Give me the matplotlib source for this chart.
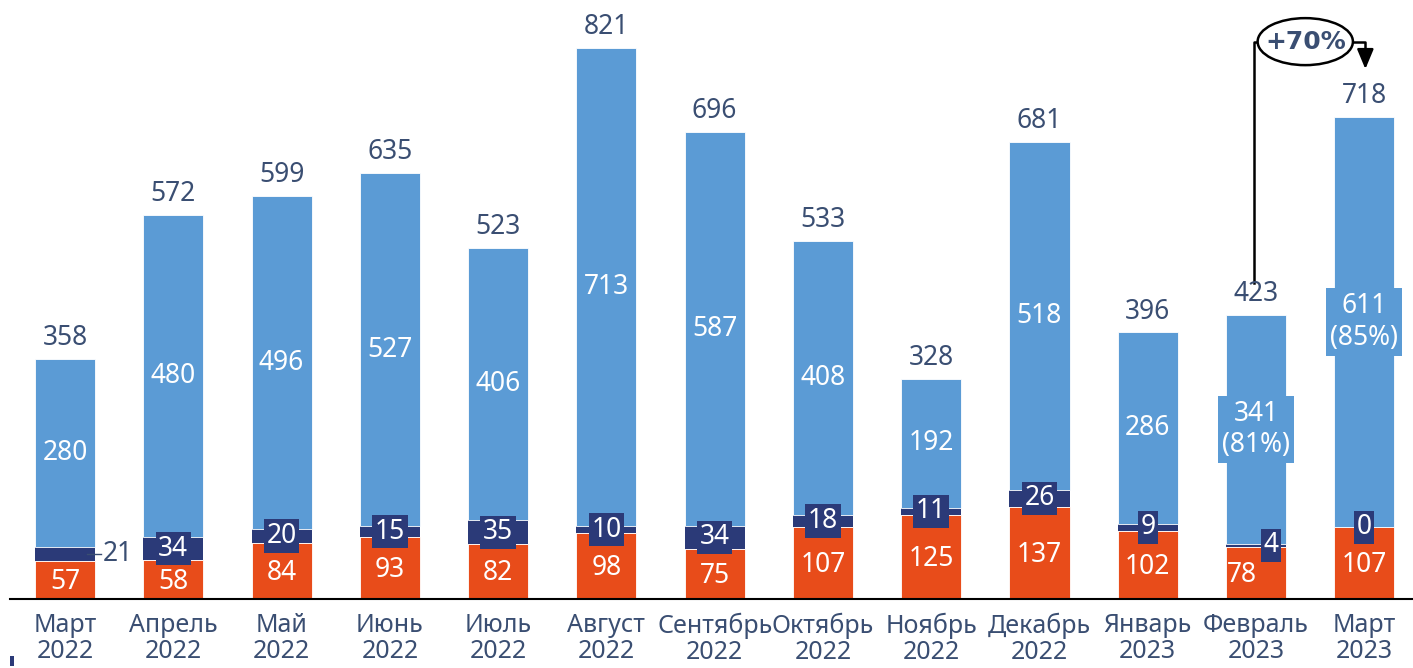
import numpy as np
import matplotlib
matplotlib.use("Agg")
import matplotlib.pyplot as plt
from matplotlib.patches import Ellipse

months = ["Март\n2022", "Апрель\n2022", "Май\n2022", "Июнь\n2022", "Июль\n2022",
          "Август\n2022", "Сентябрь\n2022", "Октябрь\n2022", "Ноябрь\n2022",
          "Декабрь\n2022", "Январь\n2023", "Февраль\n2023", "Март\n2023"]
orange = [57, 58, 84, 93, 82, 98, 75, 107, 125, 137, 102, 78, 107]
navy = [21, 34, 20, 15, 35, 10, 34, 18, 11, 26, 9, 4, 0]
blue = [280, 480, 496, 527, 406, 713, 587, 408, 192, 518, 286, 341, 611]
totals = [358, 572, 599, 635, 523, 821, 696, 533, 328, 681, 396, 423, 718]
blue_share = {11: "81%", 12: "85%"}
growth = "+70%"

C_OR = "#E84C1A"
C_NV = "#2B3A78"
C_BL = "#5B9BD5"
C_TXT = "#3A4E72"
plt.rcParams["font.family"] = ["Noto Sans", "DejaVu Sans"]

fig = plt.figure(figsize=(14.13, 6.68), dpi=100)
ax = fig.add_axes([10 / 1413, 69 / 668, 1 - 10 / 1413, 1 - 69 / 668])
x = np.arange(len(months))
w = 0.555
orange = np.array(orange)
navy = np.array(navy)
blue = np.array(blue)

ax.bar(x, orange, w, color=C_OR, edgecolor="white", linewidth=0.6)
ax.bar(x, navy, w, bottom=orange, color=C_NV, edgecolor="none")
ax.bar(x, blue, w, bottom=orange + navy, color=C_BL, edgecolor="white", linewidth=0.6)

fs = 19
for i in x:
    # orange segment
    ox = i - 0.13 if i == 11 else i
    ax.text(ox, orange[i] / 2 - 3, str(orange[i]), ha="center", va="center",
            color="white", fontsize=fs)
    # navy segment
    ny = orange[i] + navy[i] / 2
    if i == 0:
        ax.plot([i + 0.2, i + 0.33], [ny, ny], color=C_TXT, lw=1)
        ax.text(i + 0.35, ny, str(navy[i]), ha="left", va="center",
                color=C_TXT, fontsize=fs)
    else:
        nx = i + 0.14 if i == 11 else i
        ax.text(nx, ny, str(navy[i]), ha="center", va="center", color="white",
                fontsize=fs,
                bbox=dict(boxstyle="square,pad=0.1", fc=C_NV, ec="none"))
    # blue segment
    by = orange[i] + navy[i] + blue[i] / 2
    if i in blue_share:
        ax.text(i, by, f"{blue[i]}\n({blue_share[i]})", ha="center", va="center",
                color="white", fontsize=fs, linespacing=1.15,
                bbox=dict(boxstyle="square,pad=0.15", fc=C_BL, ec="none"))
    else:
        ax.text(i, by, str(blue[i]), ha="center", va="center", color="white",
                fontsize=fs)
    # total
    ax.text(i, orange[i] + navy[i] + blue[i] + 10, str(totals[i]),
            ha="center", va="bottom", color=C_TXT, fontsize=fs)

# growth callout Feb -> Mar 2023
ex, ey = 11.455, 830
ax.add_patch(Ellipse((ex, ey), 0.88, 70, fc="white", ec="black", lw=1.8, zorder=5))
ax.text(ex, ey, growth, ha="center", va="center", color=C_TXT, fontsize=18,
        fontweight="bold", family="DejaVu Sans", zorder=6)
ax.plot([10.98, 10.98, ex - 0.44], [471, ey, ey], color="black", lw=1.8)
ax.plot([ex + 0.44, 12.01, 12.01], [ey, ey, 805], color="black", lw=1.8)
ax.annotate("", xy=(12.01, 785), xytext=(12.01, 812),
            arrowprops=dict(arrowstyle="-|>,head_width=0.5,head_length=1.2",
                            color="black", lw=1.8))

ax.set_xlim(-0.508, 12.45)
ax.set_ylim(0, 892)
ax.set_xticks(x, months)
ax.tick_params(axis="x", length=0, pad=10, labelsize=18, labelcolor=C_TXT)
for t in ax.get_xticklabels():
    t.set_linespacing(1.05)
ax.set_yticks([])
for s in ("top", "right", "left"):
    ax.spines[s].set_visible(False)
ax.spines["bottom"].set_linewidth(1.5)
fig.patches.append(plt.Rectangle((10 / 1413, 2 / 668), 4 / 1413, 10 / 668,
                                 transform=fig.transFigure, fc=C_NV, ec="none"))

fig.savefig("out.png", dpi=100)
